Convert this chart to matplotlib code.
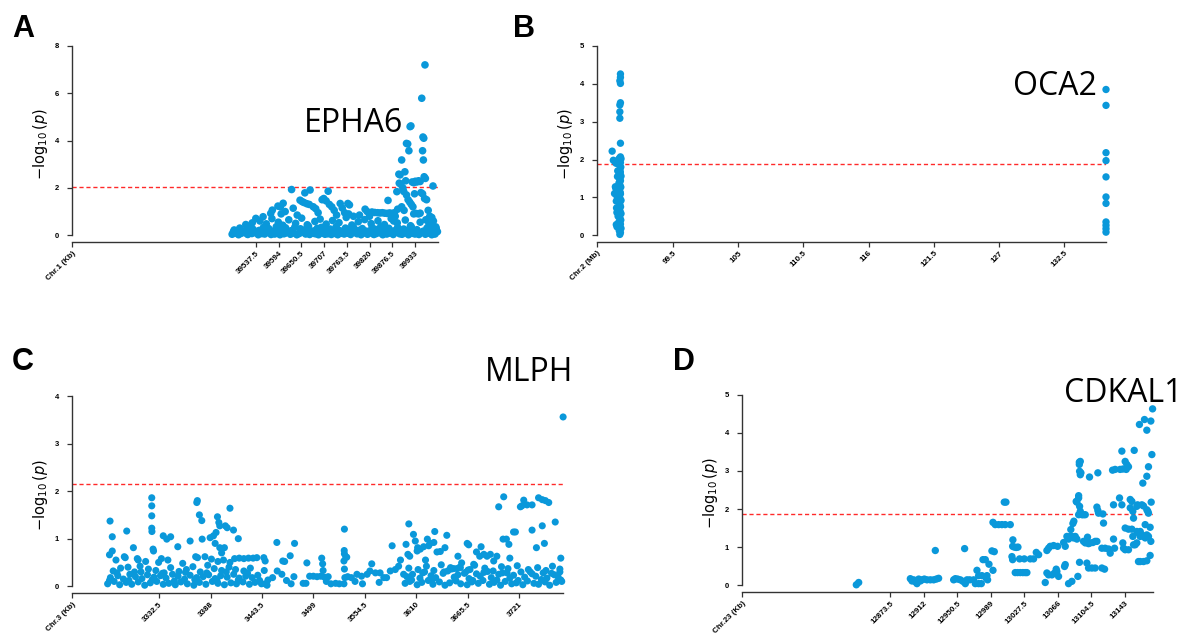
import numpy as np
import matplotlib
matplotlib.use("Agg")
import matplotlib.pyplot as plt

plt.rcParams['font.family'] = ['Liberation Sans', 'DejaVu Sans']
plt.rcParams['mathtext.fontset'] = 'dejavusans'

BLUE = '#0a98da'

# ---------------- Panel A : Chr.1, EPHA6 ----------------
a_row1_pos = [39478, 39485, 39494, 39501, 39511, 39517, 39527, 39533, 39543, 39549, 39559, 39565, 39575,
              39581, 39591, 39597, 39607, 39613, 39623, 39629, 39639, 39645, 39655, 39661, 39671, 39677,
              39687, 39693, 39703, 39709, 39719, 39725, 39735, 39741, 39751, 39757, 39767, 39773, 39783,
              39789, 39799, 39805, 39815, 39821, 39831, 39837, 39847, 39853, 39863, 39869, 39879, 39885,
              39895, 39901, 39911, 39917, 39927, 39933, 39943, 39949, 39959, 39965, 39975, 39981, 39989]
a_row1_logp = [0.04, 0.10, 0.02, 0.08, 0.12, 0.03, 0.07, 0.11, 0.02, 0.09, 0.05, 0.12, 0.03, 0.08, 0.10,
               0.02, 0.06, 0.11, 0.04, 0.09, 0.02, 0.07, 0.12, 0.05, 0.03, 0.10, 0.06, 0.02, 0.09, 0.04,
               0.11, 0.03, 0.07, 0.02, 0.10, 0.05, 0.08, 0.03, 0.12, 0.06, 0.02, 0.09, 0.04, 0.11, 0.03,
               0.07, 0.10, 0.02, 0.05, 0.09, 0.03, 0.12, 0.06, 0.04, 0.10, 0.02, 0.08, 0.05, 0.03, 0.11,
               0.04, 0.09, 0.02, 0.07, 0.15]
a_row2_pos = [39483, 39497, 39508, 39521, 39530, 39545, 39556, 39569, 39579, 39588, 39602, 39611, 39625,
              39634, 39648, 39658, 39668, 39681, 39690, 39700, 39714, 39722, 39737, 39746, 39760, 39770,
              39780, 39793, 39802, 39812, 39826, 39834, 39848, 39858, 39868, 39880, 39890, 39905, 39914,
              39924, 39938, 39954, 39963, 39972, 39986]
a_row2_logp = [0.22, 0.30, 0.18, 0.35, 0.25, 0.20, 0.33, 0.28, 0.17, 0.36, 0.24, 0.31, 0.19, 0.34, 0.27,
               0.22, 0.38, 0.18, 0.29, 0.33, 0.21, 0.26, 0.36, 0.19, 0.30, 0.24, 0.34, 0.20, 0.28, 0.17,
               0.32, 0.25, 0.37, 0.21, 0.29, 0.18, 0.33, 0.26, 0.20, 0.35, 0.23, 0.17, 0.30, 0.22, 0.28]
a_row3_pos = [39512, 39528, 39547, 39563, 39577, 39593, 39604, 39619, 39636, 39651, 39665, 39684, 39697,
              39712, 39728, 39744, 39762, 39776, 39792, 39808, 39824, 39841, 39857, 39874, 39889, 39909,
              39922, 39946, 39968, 39979]
a_row3_logp = [0.45, 0.52, 0.60, 0.48, 0.70, 0.55, 0.42, 0.65, 0.50, 0.72, 0.44, 0.58, 0.68, 0.47, 0.62,
               0.53, 0.75, 0.43, 0.57, 0.66, 0.49, 0.61, 0.45, 0.70, 0.52, 0.64, 0.40, 0.55, 0.48, 0.60]
a_row4_pos = [39481, 39490, 39505, 39515, 39524, 39538, 39552, 39561, 39571, 39584, 39595, 39609, 39616,
              39628, 39641, 39650, 39663, 39674, 39683, 39696, 39705, 39716, 39729, 39739, 39749, 39763,
              39775, 39786, 39797, 39810, 39818, 39829, 39843, 39851, 39861, 39873, 39883, 39898, 39907,
              39919, 39931, 39940, 39951, 39961, 39970, 39983]
a_row4_logp = [0.14, 0.08, 0.16, 0.06, 0.15, 0.13, 0.07, 0.16, 0.14, 0.05, 0.15, 0.09, 0.16, 0.13, 0.06,
               0.15, 0.10, 0.14, 0.07, 0.16, 0.12, 0.06, 0.15, 0.13, 0.08, 0.16, 0.11, 0.14, 0.07, 0.15,
               0.12, 0.06, 0.14, 0.16, 0.09, 0.13, 0.15, 0.08, 0.14, 0.11, 0.16, 0.07, 0.13, 0.15, 0.10,
               0.05]
a_peak = [(39537, 0.71), (39555, 0.78), (39574, 0.92), (39578, 1.06), (39592, 1.23), (39598, 1.20),
          (39605, 1.35), (39600, 0.90), (39610, 1.00), (39626, 1.93), (39630, 1.14), (39640, 0.85),
          (39647, 1.48), (39652, 1.42), (39657, 1.38), (39664, 1.33), (39670, 1.30), (39659, 1.79),
          (39672, 1.91), (39680, 1.20), (39686, 1.12), (39692, 0.95), (39702, 1.50), (39706, 1.55),
          (39712, 1.45), (39717, 1.86), (39720, 1.30), (39726, 1.20), (39732, 1.05), (39738, 0.85),
          (39747, 1.34), (39752, 1.15), (39758, 0.95), (39766, 1.34), (39770, 1.28), (39768, 0.90),
          (39780, 0.80), (39795, 0.85), (39809, 1.10), (39814, 1.00), (39820, 0.80), (39826, 0.98),
          (39833, 0.96), (39840, 0.95), (39846, 0.94), (39852, 0.95), (39858, 0.93), (39864, 0.92),
          (39866, 1.47), (39870, 0.94), (39876, 0.92), (39882, 0.95), (39888, 1.84), (39890, 1.10),
          (39893, 2.58), (39896, 2.55), (39894, 2.20), (39898, 2.15), (39900, 3.18), (39903, 2.00),
          (39905, 1.85), (39908, 2.68), (39910, 2.30), (39912, 3.88), (39915, 3.86), (39918, 3.57),
          (39921, 4.59), (39923, 4.62), (39916, 1.50), (39920, 1.40), (39924, 1.30), (39926, 2.25),
          (39930, 2.22), (39934, 2.28), (39938, 2.25), (39942, 2.30), (39946, 2.27), (39950, 5.79),
          (39958, 7.20), (39953, 4.15), (39955, 4.10), (39952, 3.57), (39954, 3.18), (39956, 2.47),
          (39959, 2.40), (39948, 1.80), (39952, 1.75), (39957, 1.55), (39962, 1.50), (39966, 1.05),
          (39970, 0.80), (39975, 0.75), (39978, 2.08), (39930, 0.90), (39936, 0.92), (39942, 0.90),
          (39946, 0.93), (39928, 1.20), (39932, 1.75), (39912, 1.70), (39906, 1.05), (39900, 1.20),
          (39880, 0.60), (39884, 0.80), (39960, 0.65), (39972, 0.40), (39985, 0.35)]
a_ticks = [39537.5, 39594, 39650.5, 39707, 39763.5, 39820, 39876.5, 39933]

# ---------------- Panel B : Chr.2, OCA2 ----------------
b_left = [(95.00, 0.02), (95.05, 0.07), (94.95, 0.12), (95.10, 0.18), (94.98, 0.23), (95.05, 0.29),
          (94.92, 0.35), (95.08, 0.40), (95.00, 0.46), (94.95, 0.52), (95.10, 0.57), (95.02, 0.63),
          (94.90, 0.69), (95.06, 0.75), (95.00, 0.81), (94.94, 0.86), (95.10, 0.92), (95.00, 0.98),
          (94.92, 1.04), (95.05, 1.09), (95.00, 1.15), (94.96, 1.21), (95.08, 1.27), (95.00, 1.33),
          (94.93, 1.38), (95.05, 1.44), (95.00, 1.50), (95.10, 1.56), (94.96, 1.61), (95.04, 1.67),
          (95.00, 1.73), (95.08, 1.80), (94.95, 1.86), (95.05, 1.92), (95.10, 2.02), (94.98, 0.33),
          (95.02, 0.55), (94.98, 0.88), (95.03, 1.12), (94.97, 1.40), (95.02, 1.62), (94.35, 2.22),
          (94.45, 1.98), (94.58, 1.95), (94.62, 1.28), (94.55, 1.10), (94.70, 0.90), (94.72, 0.72),
          (94.70, 0.28), (94.76, 0.22), (94.66, 1.24), (94.80, 1.55), (94.82, 1.70), (94.85, 0.50),
          (94.78, 1.00), (94.75, 0.60), (94.68, 1.90), (95.05, 4.26), (95.05, 4.17), (95.00, 4.08),
          (95.05, 4.01), (95.05, 3.50), (95.00, 3.44), (95.00, 3.26), (95.00, 3.09), (95.05, 2.43),
          (95.05, 2.07), (94.95, 2.03)]
b_right_logp = [3.85, 3.43, 2.18, 1.97, 1.54, 1.01, 0.84, 0.35, 0.26, 0.17, 0.08]
b_right_pos = 136.05
b_ticks = [99.5, 105, 110.5, 116, 121.5, 127, 132.5]

# ---------------- Panel C : Chr.3, MLPH ----------------
c_row1_pos = [3277, 3284, 3290, 3297, 3303, 3310, 3317, 3323, 3330, 3337, 3343, 3350, 3356, 3363, 3370,
              3376, 3383, 3390, 3396, 3403, 3410, 3416, 3423, 3430, 3436, 3443,
              3598, 3603, 3611, 3616, 3623, 3628, 3635, 3641, 3646, 3653, 3658, 3665, 3670, 3677, 3682,
              3689, 3694, 3701, 3706, 3713, 3718, 3725, 3730, 3737, 3742, 3749, 3754, 3761, 3767]
c_row1_logp = [0.05, 0.10, 0.03, 0.08, 0.04, 0.09, 0.02, 0.07, 0.10, 0.04, 0.06, 0.03, 0.09, 0.05, 0.02,
               0.08, 0.04, 0.10, 0.06, 0.03, 0.07, 0.05, 0.09, 0.04, 0.08, 0.05,
               0.06, 0.10, 0.03, 0.08, 0.12, 0.04, 0.09, 0.02, 0.07, 0.11, 0.05, 0.03, 0.09, 0.06, 0.12,
               0.04, 0.08, 0.02, 0.10, 0.05, 0.07, 0.03, 0.11, 0.06, 0.04, 0.09, 0.02, 0.08, 0.10]
c_row2_pos = [3280, 3288, 3294, 3301, 3307, 3314, 3320, 3327, 3334, 3340, 3347, 3353, 3360, 3366, 3373,
              3380, 3386, 3393, 3399, 3406, 3413, 3419, 3426, 3433, 3439,
              3600, 3606, 3614, 3619, 3626, 3631, 3639, 3644, 3651, 3655, 3663, 3667, 3675, 3679, 3687,
              3691, 3699, 3703, 3711, 3715, 3723, 3727, 3735, 3739, 3747, 3751, 3759, 3763]
c_row2_logp = [0.18, 0.22, 0.15, 0.25, 0.20, 0.16, 0.24, 0.19, 0.22, 0.17, 0.25, 0.21, 0.15, 0.23, 0.18,
               0.20, 0.24, 0.16, 0.22, 0.19, 0.25, 0.17, 0.21, 0.18, 0.23,
               0.20, 0.25, 0.17, 0.30, 0.22, 0.18, 0.27, 0.32, 0.19, 0.24, 0.29, 0.16, 0.26, 0.21, 0.31,
               0.18, 0.25, 0.28, 0.17, 0.23, 0.30, 0.19, 0.26, 0.21, 0.28, 0.17, 0.24, 0.20]
c_row3_pos = [3283, 3291, 3299, 3306, 3312, 3321, 3329, 3338, 3345, 3354, 3362, 3369, 3377, 3385, 3392,
              3400, 3408, 3415, 3424, 3431,
              3602, 3612, 3621, 3629, 3637, 3648, 3657, 3666, 3673, 3684, 3693, 3702, 3709, 3719, 3731,
              3741, 3750, 3757, 3765]
c_row3_logp = [0.32, 0.38, 0.40, 0.30, 0.42, 0.36, 0.33, 0.28, 0.39, 0.31, 0.35, 0.41, 0.30, 0.44, 0.37,
               0.33, 0.40, 0.35, 0.32, 0.38,
               0.38, 0.35, 0.42, 0.33, 0.45, 0.36, 0.40, 0.34, 0.44, 0.38, 0.32, 0.41, 0.37, 0.43, 0.35,
               0.39, 0.33, 0.42, 0.36]
c_row4_pos = [3286, 3296, 3309, 3318, 3332, 3342, 3358, 3374, 3382, 3389, 3396, 3402, 3409,
              3414, 3419, 3424, 3429, 3434, 3438]
c_row4_logp = [0.55, 0.60, 0.58, 0.52, 0.50, 0.55, 0.48, 0.60, 0.62, 0.57, 0.52, 0.55, 0.50,
               0.58, 0.59, 0.58, 0.59, 0.59, 0.60]
c_row5_pos = [3279, 3287, 3300, 3313, 3325, 3336, 3349, 3361, 3371, 3384, 3395, 3405, 3418, 3428, 3441,
              3605, 3617, 3627, 3640, 3652, 3662, 3671, 3683, 3697, 3708, 3720, 3733, 3745, 3756, 3766]
c_row5_logp = [0.12, 0.28, 0.12, 0.30, 0.13, 0.27, 0.11, 0.29, 0.14, 0.28, 0.12, 0.30, 0.13, 0.27, 0.12,
               0.13, 0.28, 0.12, 0.30, 0.14, 0.27, 0.12, 0.29, 0.13, 0.28, 0.12, 0.30, 0.14, 0.27, 0.13]
c_peak = [(3279.6, 1.37), (3282, 1.04), (3282, 0.74), (3279, 0.66), (3297.6, 1.16), (3304.8, 0.81),
          (3295, 0.62), (3324.6, 1.86), (3324.6, 1.69), (3324.6, 1.48), (3324.6, 1.22), (3324.8, 1.15),
          (3326, 0.78), (3326.5, 0.74), (3337, 1.06), (3340.8, 0.99), (3345, 1.04), (3352.7, 0.83),
          (3366, 0.95), (3373.2, 1.76), (3373.8, 1.80), (3376, 1.50), (3378.6, 1.38), (3379, 0.99),
          (3387.6, 1.02), (3391.2, 1.06), (3394, 1.13), (3395.5, 1.46), (3397, 1.34), (3398, 1.27),
          (3398, 0.81), (3403, 0.81), (3404, 1.27), (3406, 1.23), (3409, 1.64), (3412.8, 1.18),
          (3418, 1.00), (3393, 0.90), (3400, 0.70), (3372, 0.62), (3310, 0.55), (3335, 0.58),
          (3445.5, 0.60), (3447, 0.53), (3446, 0.33), (3447, 0.05), (3449, 0.02), (3459.6, 0.92),
          (3466, 0.53), (3468, 0.52), (3474, 0.64), (3478.7, 0.90), (3455, 0.18), (3460, 0.32),
          (3465, 0.25), (3470, 0.12), (3475, 0.05), (3478, 0.20), (3450, 0.13), (3492, 0.49),
          (3488, 0.06), (3491, 0.06), (3495, 0.21), (3499, 0.21), (3503, 0.20), (3507, 0.21),
          (3511, 0.19), (3515, 0.20), (3508, 0.59), (3509, 0.47), (3509.5, 0.33), (3513, 0.10),
          (3518, 0.05), (3523, 0.06), (3527, 0.05), (3532.3, 0.75), (3532.5, 0.68), (3532.5, 1.20),
          (3532, 0.53), (3532.5, 0.36), (3533, 0.18), (3532, 0.05), (3534, 0.61), (3535, 0.61),
          (3536, 0.20), (3540, 0.18), (3544, 0.10), (3546, 0.25), (3551, 0.21), (3552, 0.05),
          (3557, 0.25), (3560, 0.32), (3562, 0.47), (3566, 0.28), (3570, 0.08), (3571, 0.28),
          (3575, 0.18), (3578, 0.18), (3582, 0.32), (3584, 0.85), (3587.4, 0.35), (3591, 0.42),
          (3593, 0.55), (3596.4, 0.25), (3599, 0.88), (3601, 0.67), (3602, 1.31), (3603, 0.63),
          (3607, 1.09), (3609, 0.95), (3611, 0.74), (3611.5, 0.81), (3614.4, 0.78), (3618, 0.83),
          (3620, 0.55), (3622, 0.99), (3623.4, 0.85), (3625, 0.90), (3629, 0.92), (3630, 1.15),
          (3632.4, 0.72), (3636, 0.73), (3641, 0.81), (3643, 1.07), (3647, 0.39), (3650.4, 0.37),
          (3654, 0.37), (3655, 0.63), (3657.6, 0.39), (3659, 0.49), (3665, 0.90), (3666.6, 0.87),
          (3668, 0.35), (3672, 0.46), (3675, 0.72), (3678.5, 0.63), (3680, 0.83), (3683, 0.67),
          (3686.4, 0.63), (3690, 0.67), (3693.6, 0.53), (3697, 0.63), (3699, 1.67), (3704.4, 1.88),
          (3703.7, 0.99), (3707.3, 0.99), (3710, 0.88), (3711, 0.59), (3715, 1.14), (3717, 1.14),
          (3722.4, 1.67), (3724, 1.69), (3726, 1.81), (3729.6, 1.71), (3735, 1.71), (3735, 1.18),
          (3739.7, 0.81), (3742, 1.86), (3746, 1.82), (3748.3, 0.90), (3749.4, 1.80), (3753, 1.76),
          (3746, 1.27), (3760, 1.35), (3766, 0.59), (3765, 0.30), (3768.5, 3.56)]
c_ticks = [3332.5, 3388, 3443.5, 3499, 3554.5, 3610, 3665.5, 3721]

# ---------------- Panel D : Chr.23, CDKAL1 ----------------
d_points = [(12834.4, 0.01), (12837.1, 0.07), (12896.5, 0.17), (12898.4, 0.11), (12900.3, 0.14),
            (12902.2, 0.09), (12904.1, 0.04), (12906.1, 0.16), (12908.0, 0.11), (12909.9, 0.14),
            (12912.6, 0.16), (12915.6, 0.14), (12919.5, 0.14), (12923.3, 0.14), (12926.4, 0.16),
            (12929.0, 0.18), (12925.2, 0.91), (12946.3, 0.14), (12948.2, 0.17), (12950.9, 0.16),
            (12953.9, 0.14), (12957.0, 0.10), (12959.7, 0.04), (12961.6, 0.14), (12964.7, 0.14),
            (12958.9, 0.96), (12969.3, 0.14), (12971.2, 0.04), (12975.0, 0.04), (12978.1, 0.04),
            (12973.1, 0.39), (12975.0, 0.25), (12978.8, 0.25), (12980.0, 0.67), (12982.7, 0.67),
            (12984.6, 0.25), (12985.3, 0.14), (12986.9, 0.55), (12983.8, 0.18), (12990.3, 0.90),
            (12993.0, 0.88), (12991.5, 0.39), (12991.5, 1.65), (12994.1, 1.59), (12998.0, 1.59),
            (13001.8, 1.59), (13005.6, 1.59), (13011.4, 1.59), (13004.5, 2.18), (13006.4, 2.18),
            (13014.4, 1.19), (13014.1, 1.02), (13016.0, 1.00), (13018.3, 0.99), (13020.2, 1.00),
            (13013.3, 0.75), (13014.1, 0.67), (13017.1, 0.33), (13019.8, 0.33), (13022.9, 0.33),
            (13025.9, 0.33), (13028.6, 0.33), (13030.5, 0.33), (13022.1, 0.69), (13027.5, 0.69),
            (13034.4, 0.69), (13038.2, 0.69), (13041.3, 0.86), (13044.0, 0.80), (13051.6, 0.07),
            (13053.5, 0.91), (13055.4, 0.97), (13057.3, 1.02), (13061.2, 1.04), (13065.8, 1.02),
            (13053.5, 0.32), (13055.4, 0.27), (13059.3, 0.27), (13062.3, 0.32), (13064.2, 0.42),
            (13065.0, 0.36), (13066.9, 0.23), (13072.7, 1.12), (13074.6, 1.02), (13074.6, 0.54),
            (13073.8, 0.49), (13078.4, 0.04), (13082.2, 0.10), (13076.5, 1.28), (13078.4, 1.21),
            (13080.3, 1.28), (13082.2, 1.28), (13084.2, 1.24), (13086.1, 1.28), (13081.0, 1.46),
            (13083.4, 1.62), (13084.5, 1.68), (13087.2, 2.20), (13088.0, 2.18), (13089.1, 0.23),
            (13091.0, 0.60), (13090.0, 2.35), (13090.0, 2.29), (13090.8, 3.23), (13090.8, 3.17),
            (13091.9, 3.25), (13091.1, 2.99), (13091.9, 2.90), (13092.6, 2.95), (13091.1, 2.07),
            (13091.9, 1.94), (13093.8, 1.85), (13090.0, 1.85), (13095.6, 1.85), (13097.6, 1.85),
            (13088.0, 1.21), (13095.6, 1.15), (13097.6, 1.11), (13099.5, 1.12), (13101.4, 1.09),
            (13103.3, 1.11), (13106.4, 1.12), (13109.0, 1.15), (13111.0, 1.15), (13100.2, 1.26),
            (13102.5, 2.84), (13099.5, 0.58), (13101.4, 0.45), (13105.2, 0.45), (13109.0, 0.45),
            (13112.1, 2.95), (13111.0, 2.05), (13112.1, 1.96), (13112.9, 1.89), (13116.7, 0.45),
            (13119.8, 0.42), (13117.9, 1.87), (13118.6, 1.63), (13116.7, 0.97), (13120.5, 0.97),
            (13124.4, 0.95), (13126.3, 0.84), (13130.1, 1.21), (13131.3, 0.97), (13129.0, 3.02),
            (13132.0, 3.04), (13130.1, 2.11), (13137.0, 2.29), (13139.7, 2.11), (13139.7, 3.52),
            (13141.6, 0.97), (13143.5, 0.93), (13147.3, 0.93), (13140.8, 1.11), (13143.5, 3.25),
            (13145.4, 3.17), (13147.3, 3.11), (13144.7, 3.04), (13140.8, 3.05), (13137.7, 3.04),
            (13143.5, 1.50), (13147.3, 1.47), (13151.2, 1.47), (13149.3, 2.25), (13151.2, 2.20),
            (13149.3, 2.03), (13152.3, 1.94), (13153.1, 1.76), (13153.9, 3.54), (13152.3, 1.28),
            (13153.1, 1.06), (13155.0, 1.06), (13156.9, 1.11), (13156.9, 2.07), (13157.7, 2.11),
            (13158.8, 0.62), (13160.8, 0.62), (13164.6, 0.62), (13168.4, 0.64), (13159.9, 4.22),
            (13165.7, 4.35), (13168.4, 4.07), (13173.0, 4.31), (13175.0, 4.63), (13174.2, 3.43),
            (13173.4, 2.18), (13172.2, 1.52), (13173.0, 1.15), (13172.2, 0.78), (13163.8, 2.68),
            (13168.4, 2.86), (13170.3, 3.11), (13168.4, 1.98), (13169.5, 1.94), (13170.3, 1.89),
            (13162.7, 2.11), (13164.6, 2.08), (13160.8, 1.28), (13162.7, 1.32), (13164.6, 1.28),
            (13166.5, 1.24), (13168.4, 1.32), (13170.3, 1.28), (13160.8, 1.41), (13166.5, 1.59),
            (13156.9, 1.41), (13158.8, 1.37)]
d_ticks = [12873.5, 12912, 12950.5, 12989, 13027.5, 13066, 13104.5, 13143]

thresholds = {'A': 2.05, 'B': 1.88, 'C': 2.15, 'D': 1.87}


def manhattan(ax, xs, ys, xlim, ymax, yticks, xticks, chrom, thr, size=24):
    ax.scatter(xs, ys, s=size, color=BLUE, edgecolors='none', clip_on=False, zorder=3)
    ax.plot(xlim, [thr, thr], color='#ff2a2a', lw=1.0, dashes=(3, 2), zorder=2)
    ax.set_xlim(*xlim)
    ax.set_ylim(-0.036 * ymax, ymax)
    for s in ['top', 'right']:
        ax.spines[s].set_visible(False)
    for s in ['left', 'bottom']:
        ax.spines[s].set_color('#333333')
        ax.spines[s].set_linewidth(1.0)
    ax.spines['left'].set_bounds(0, ymax)
    ax.set_yticks(yticks)
    ax.set_yticklabels([str(t) for t in yticks], fontsize=5.5, fontweight='bold')
    ticks = [xlim[0]] + list(xticks)
    labels = [chrom] + [('%g' % t) for t in xticks]
    ax.set_xticks(ticks)
    ax.set_xticklabels(labels, rotation=45, ha='right', rotation_mode='anchor',
                       fontsize=5.8, fontweight='bold')
    ax.tick_params(axis='both', direction='out', length=3.5, width=0.9, color='#333333', pad=2)
    ax.tick_params(axis='y', pad=6)
    ax.set_ylabel(r'$-\log_{10}(p)$', fontsize=10.5, labelpad=3)


fig = plt.figure(figsize=(11.89, 6.35), dpi=100)

axA = fig.add_axes([0.0606, 0.6189, 0.3078, 0.3087])
xa = a_row1_pos + a_row2_pos + a_row3_pos + a_row4_pos + [p[0] for p in a_peak]
ya = a_row1_logp + a_row2_logp + a_row3_logp + a_row4_logp + [p[1] for p in a_peak]
manhattan(axA, xa, ya, (39079.5, 39990.5), 8, [0, 2, 4, 6, 8], a_ticks, 'Chr.1 (Kb)', thresholds['A'], size=30)

axB = fig.add_axes([0.5021, 0.6189, 0.4281, 0.3087])
xb = [p[0] for p in b_left] + [b_right_pos] * len(b_right_logp)
yb = [p[1] for p in b_left] + b_right_logp
manhattan(axB, xb, yb, (93.07, 136.05), 5, [0, 1, 2, 3, 4, 5], b_ticks, 'Chr.2 (Mb)', thresholds['B'], size=28)

axC = fig.add_axes([0.0606, 0.0661, 0.4130, 0.3102])
xc = c_row1_pos + c_row2_pos + c_row3_pos + c_row4_pos + c_row5_pos + [p[0] for p in c_peak]
yc = c_row1_logp + c_row2_logp + c_row3_logp + c_row4_logp + c_row5_logp + [p[1] for p in c_peak]
manhattan(axC, xc, yc, (3238.6, 3768.5), 4, [0, 1, 2, 3, 4], c_ticks, 'Chr.3 (Kb)', thresholds['C'], size=26)

axD = fig.add_axes([0.6241, 0.0677, 0.3457, 0.3106])
manhattan(axD, [p[0] for p in d_points], [p[1] for p in d_points], (12703, 13175.6), 5,
          [0, 1, 2, 3, 4, 5], d_ticks, 'Chr.23 (Kb)', thresholds['D'], size=28)

# gene names
gene_kw = dict(fontsize=23, family=['Open Sans', 'DejaVu Sans'], ha='right', va='baseline')
fig.text(0.339, 0.792, 'EPHA6', **gene_kw)
fig.text(0.9224, 0.850, 'OCA2', **gene_kw)
fig.text(0.482, 0.400, 'MLPH', **gene_kw)
fig.text(0.9947, 0.3674, 'CDKAL1', **gene_kw)

# panel letters
let_kw = dict(fontsize=22, fontweight='bold', ha='left', va='baseline')
fig.text(0.0101, 0.9417, 'A', **let_kw)
fig.text(0.4315, 0.9417, 'B', **let_kw)
fig.text(0.0101, 0.4173, 'C', **let_kw)
fig.text(0.566, 0.4173, 'D', **let_kw)

fig.savefig('out.png', dpi=100)
